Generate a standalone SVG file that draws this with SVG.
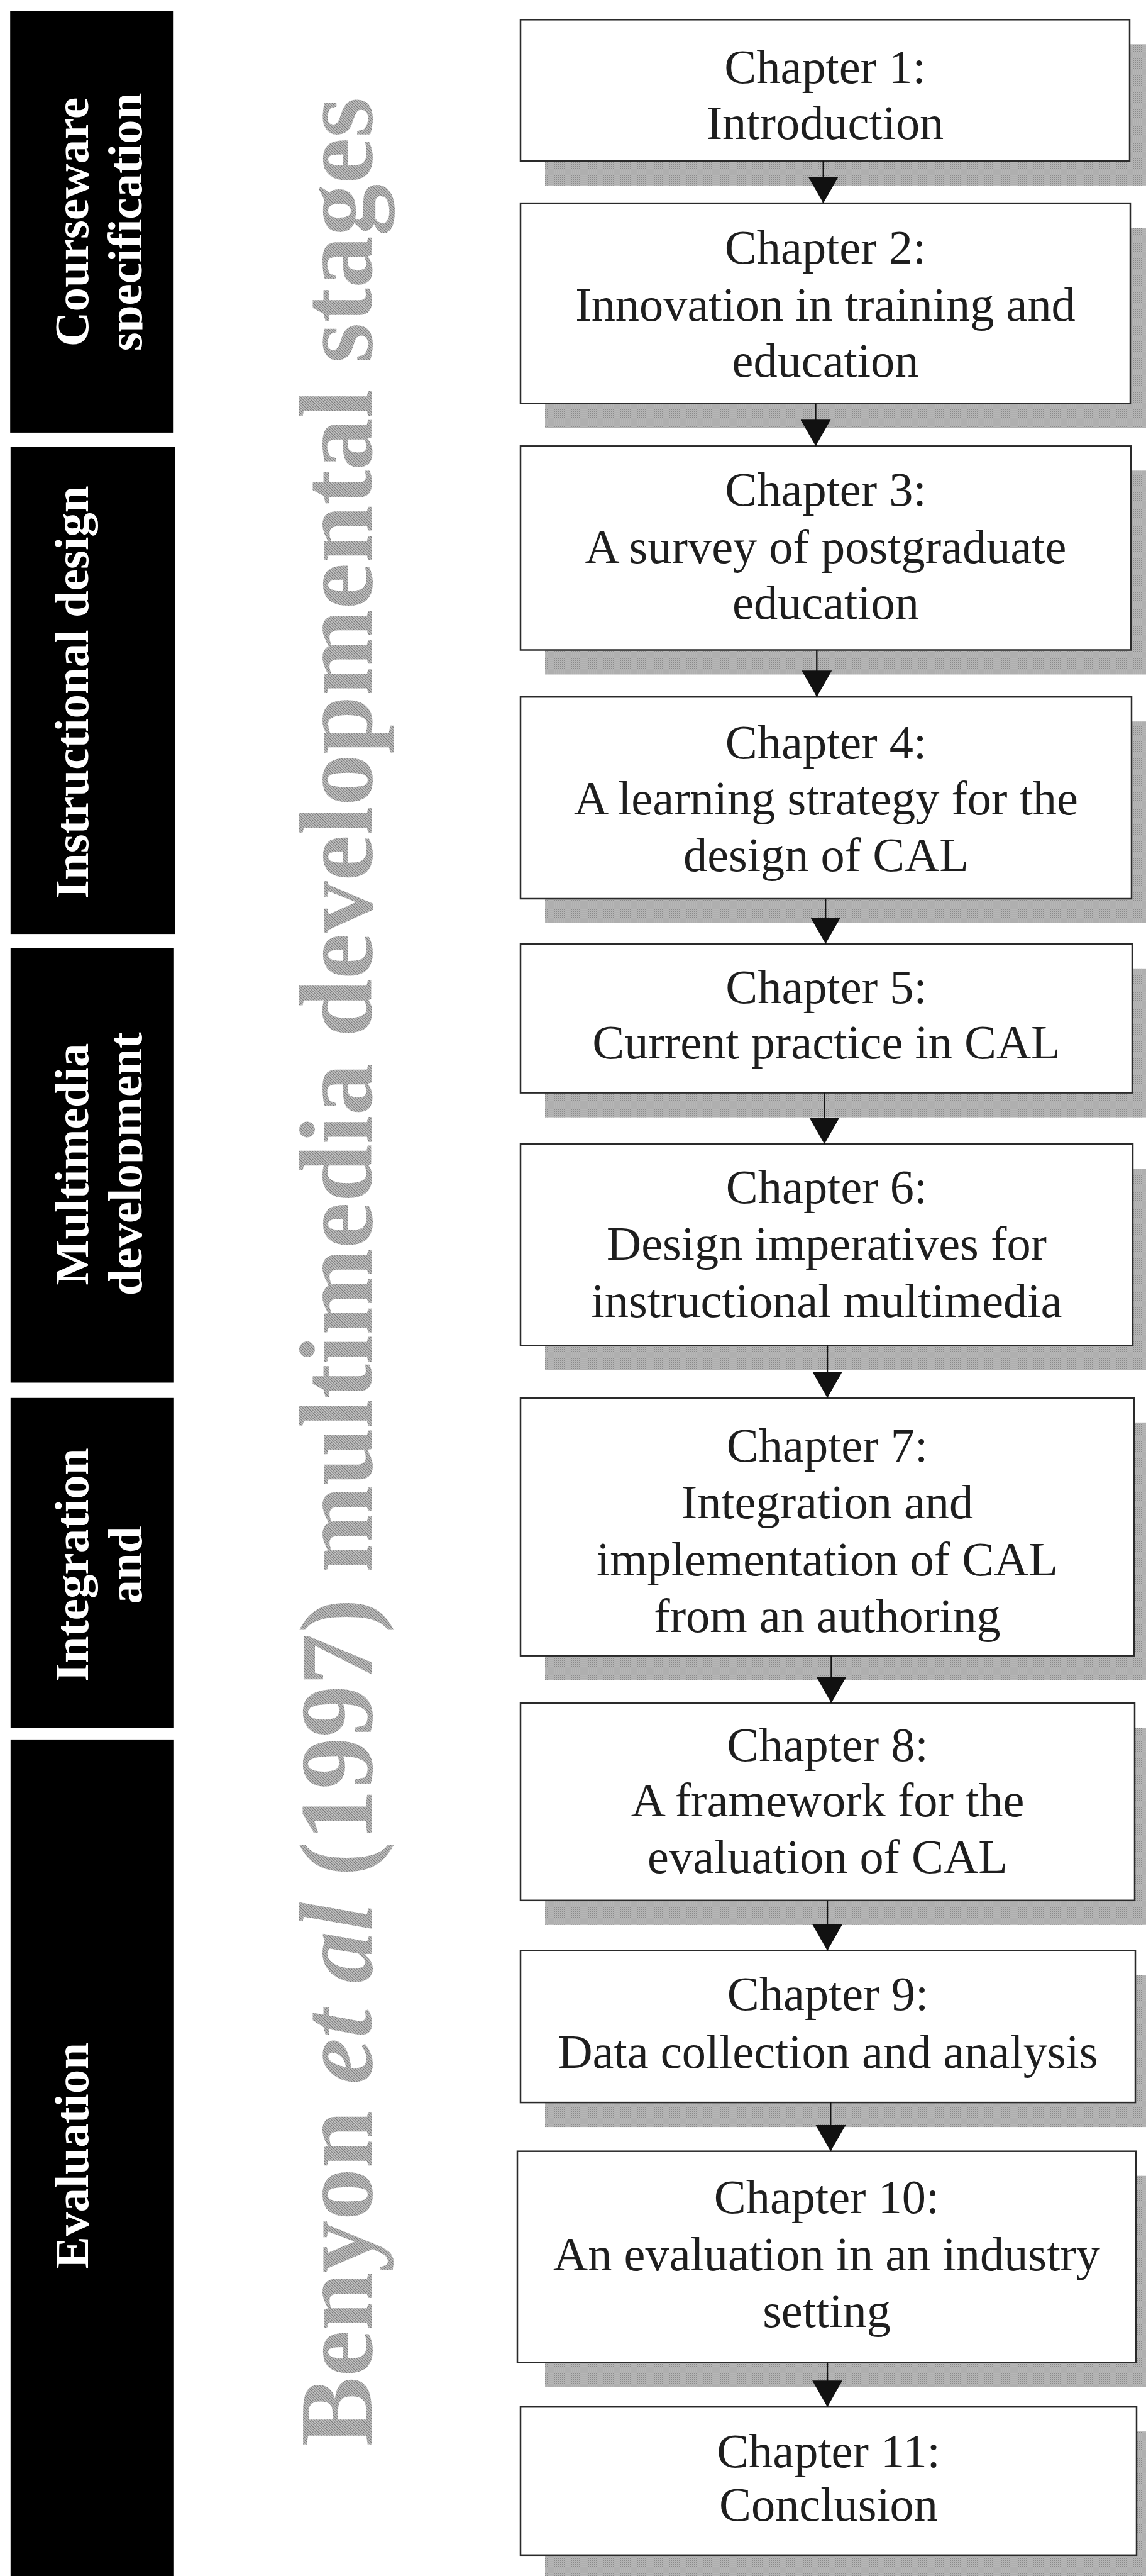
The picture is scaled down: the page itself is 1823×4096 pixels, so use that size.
<svg xmlns="http://www.w3.org/2000/svg" width="1823" height="4096" viewBox="0 0 1823 4096">
  <style>
    .box { fill: #ffffff; stroke: #2a2a2a; stroke-width: 2.5; }
    .shadow { fill: url(#stipple); }
    .ch { font-family: "Liberation Serif", "Times New Roman", serif; font-size: 76.4px; fill: #1e1e1e; text-anchor: middle; }
    .bar { fill: #000000; }
    .lbl { font-family: "Liberation Serif", "Times New Roman", serif; font-size: 77px; font-weight: bold; fill: #ffffff; text-anchor: middle; }
    .title { font-family: "Liberation Serif", "Times New Roman", serif; font-size: 165.6px; font-weight: bold; fill: url(#hatch); text-anchor: middle; }
    .arrow { stroke: #111111; stroke-width: 2.3; fill: none; marker-end: url(#head); }
  </style>
  <defs>
    <!-- speckled grey used for the drop shadows -->
    <pattern id="stipple" patternUnits="userSpaceOnUse" width="3" height="3">
      <rect width="3" height="3" fill="#b6b6b6"/>
      <rect x="0" y="0" width="1" height="1" fill="#8a8a8a"/>
      <rect x="1.5" y="1.5" width="1" height="1" fill="#9a9a9a"/>
    </pattern>
    <!-- diagonal hatching for the large vertical caption -->
    <pattern id="hatch" patternUnits="userSpaceOnUse" width="3" height="3" patternTransform="rotate(45)">
      <rect width="3" height="3" fill="#c8c8c8"/>
      <rect x="0" y="0" width="1.2" height="3" fill="#767676"/>
    </pattern>
    <marker id="head" markerUnits="userSpaceOnUse" markerWidth="42" markerHeight="48" viewBox="0 0 42 48" refX="42" refY="24" orient="auto">
      <path d="M0,0 L42,24 L0,48 Z" fill="#111111"/>
    </marker>
    <!-- the stage labels are cut just past their second line -->
    <clipPath id="labelClip">
      <rect x="0" y="0" width="226.5" height="4096"/>
    </clipPath>
  </defs>

  <rect width="1823" height="4096" fill="#ffffff"/>

  <!-- stage bars on the left -->
  <g id="stage-courseware">
    <rect class="bar" x="16.2" y="17.9" width="259" height="670"/>
  </g>
  <g id="stage-instructional">
    <rect class="bar" x="16.8" y="710.4" width="262" height="774.7"/>
  </g>
  <g id="stage-multimedia">
    <rect class="bar" x="16.8" y="1507.1" width="259" height="691.4"/>
  </g>
  <g id="stage-integration">
    <rect class="bar" x="16.8" y="2222.8" width="259" height="524.6"/>
  </g>
  <g id="stage-evaluation">
    <rect class="bar" x="16.8" y="2765.9" width="259" height="1330.1"/>
  </g>

  <g id="stage-labels" clip-path="url(#labelClip)">
    <text class="lbl" transform="translate(139.5,353) rotate(-90)">Courseware</text>
    <text class="lbl" transform="translate(224.7,353) rotate(-90)">specification</text>
    <text class="lbl" transform="translate(139.5,1100.7) rotate(-90)">Instructional design</text>
    <text class="lbl" transform="translate(139.5,1851) rotate(-90)">Multimedia</text>
    <text class="lbl" transform="translate(224.7,1851) rotate(-90)">development</text>
    <text class="lbl" transform="translate(139.5,2488.5) rotate(-90)">Integration</text>
    <text class="lbl" transform="translate(224.7,2488.5) rotate(-90)">and</text>
    <text class="lbl" transform="translate(139.5,3427.7) rotate(-90)">Evaluation</text>
  </g>

  <!-- vertical caption -->
  <g id="caption">
    <text class="title" transform="translate(590.6,2022) rotate(-90)">Benyon <tspan font-style="italic">et al</tspan> (1997) multimedia developmental stages</text>
  </g>

  <!-- chapter boxes -->
  <g id="ch1">
    <rect class="shadow" x="867" y="70.3" width="1000" height="224.6"/>
    <rect class="box" x="828" y="31.3" width="969" height="224.6"/>
    <text class="ch"><tspan x="1312.5" y="132">Chapter 1:</tspan><tspan x="1312.5" y="221.2">Introduction</tspan></text>
  </g>
  <g id="ch2">
    <rect class="shadow" x="867" y="362.1" width="1000" height="318.4"/>
    <rect class="box" x="828" y="323.1" width="970" height="318.4"/>
    <text class="ch"><tspan x="1313" y="419.2">Chapter 2:</tspan><tspan x="1313" y="509.5">Innovation in training and</tspan><tspan x="1313" y="599.3">education</tspan></text>
  </g>
  <g id="ch3">
    <rect class="shadow" x="867" y="748.3" width="1000" height="324.2"/>
    <rect class="box" x="828" y="709.3" width="971" height="324.2"/>
    <text class="ch"><tspan x="1313.5" y="803.7">Chapter 3:</tspan><tspan x="1313.5" y="895.1">A survey of postgraduate</tspan><tspan x="1313.5" y="984.3">education</tspan></text>
  </g>
  <g id="ch4">
    <rect class="shadow" x="867" y="1147.2" width="1000" height="320.8"/>
    <rect class="box" x="828" y="1108.2" width="972" height="320.8"/>
    <text class="ch"><tspan x="1314" y="1205.5">Chapter 4:</tspan><tspan x="1314" y="1295.2">A learning strategy for the</tspan><tspan x="1314" y="1385">design of CAL</tspan></text>
  </g>
  <g id="ch5">
    <rect class="shadow" x="867" y="1539.8" width="1000" height="236.8"/>
    <rect class="box" x="828" y="1500.8" width="973" height="236.8"/>
    <text class="ch"><tspan x="1314.5" y="1594.6">Chapter 5:</tspan><tspan x="1314.5" y="1682.6">Current practice in CAL</tspan></text>
  </g>
  <g id="ch6">
    <rect class="shadow" x="867" y="1858.2" width="1000" height="320.2"/>
    <rect class="box" x="828" y="1819.2" width="974" height="320.2"/>
    <text class="ch"><tspan x="1315" y="1913">Chapter 6:</tspan><tspan x="1315" y="2003.3">Design imperatives for</tspan><tspan x="1315" y="2093.7">instructional multimedia</tspan></text>
  </g>
  <g id="ch7">
    <rect class="shadow" x="867" y="2261.8" width="1000" height="409.9"/>
    <rect class="box" x="828" y="2222.8" width="976" height="409.9"/>
    <text class="ch"><tspan x="1316" y="2323.5">Chapter 7:</tspan><tspan x="1316" y="2414.4">Integration and</tspan><tspan x="1316" y="2505.3">implementation of CAL</tspan><tspan x="1316" y="2595.1">from an authoring</tspan></text>
  </g>
  <g id="ch8">
    <rect class="shadow" x="867" y="2747" width="1000" height="313.8"/>
    <rect class="box" x="828" y="2708" width="977" height="313.8"/>
    <text class="ch"><tspan x="1316.5" y="2800">Chapter 8:</tspan><tspan x="1316.5" y="2888.1">A framework for the</tspan><tspan x="1316.5" y="2977.8">evaluation of CAL</tspan></text>
  </g>
  <g id="ch9">
    <rect class="shadow" x="867" y="3140.7" width="1000" height="241.4"/>
    <rect class="box" x="828" y="3101.7" width="978" height="241.4"/>
    <text class="ch"><tspan x="1317" y="3196.1">Chapter 9:</tspan><tspan x="1317" y="3288.1">Data collection and analysis</tspan></text>
  </g>
  <g id="ch10">
    <rect class="shadow" x="867" y="3459.7" width="1000" height="335.9"/>
    <rect class="box" x="823" y="3420.7" width="984" height="335.9"/>
    <text class="ch"><tspan x="1315" y="3518.6">Chapter 10:</tspan><tspan x="1315" y="3609.5">An evaluation in an industry</tspan><tspan x="1315" y="3700.4">setting</tspan></text>
  </g>
  <g id="ch11">
    <rect class="shadow" x="867" y="3866.2" width="1000" height="235.6"/>
    <rect class="box" x="828" y="3827.2" width="980" height="235.6"/>
    <text class="ch"><tspan x="1318" y="3922.7">Chapter 11:</tspan><tspan x="1318" y="4008.4">Conclusion</tspan></text>
  </g>

  <!-- connectors between consecutive chapters -->
  <g id="connectors">
    <line class="arrow" x1="1309.7" y1="255.9" x2="1309.7" y2="323.1"/>
    <line class="arrow" x1="1297.5" y1="641.5" x2="1297.5" y2="709.3"/>
    <line class="arrow" x1="1299.3" y1="1033.5" x2="1299.3" y2="1108.2"/>
    <line class="arrow" x1="1313.2" y1="1429" x2="1313.2" y2="1500.8"/>
    <line class="arrow" x1="1311.4" y1="1737.6" x2="1311.4" y2="1819.2"/>
    <line class="arrow" x1="1316.1" y1="2139.4" x2="1316.1" y2="2222.8"/>
    <line class="arrow" x1="1322.4" y1="2632.7" x2="1322.4" y2="2708"/>
    <line class="arrow" x1="1316.1" y1="3021.8" x2="1316.1" y2="3101.7"/>
    <line class="arrow" x1="1321.3" y1="3343.1" x2="1321.3" y2="3420.7"/>
    <line class="arrow" x1="1316.1" y1="3756.6" x2="1316.1" y2="3827.2"/>
  </g>
</svg>
